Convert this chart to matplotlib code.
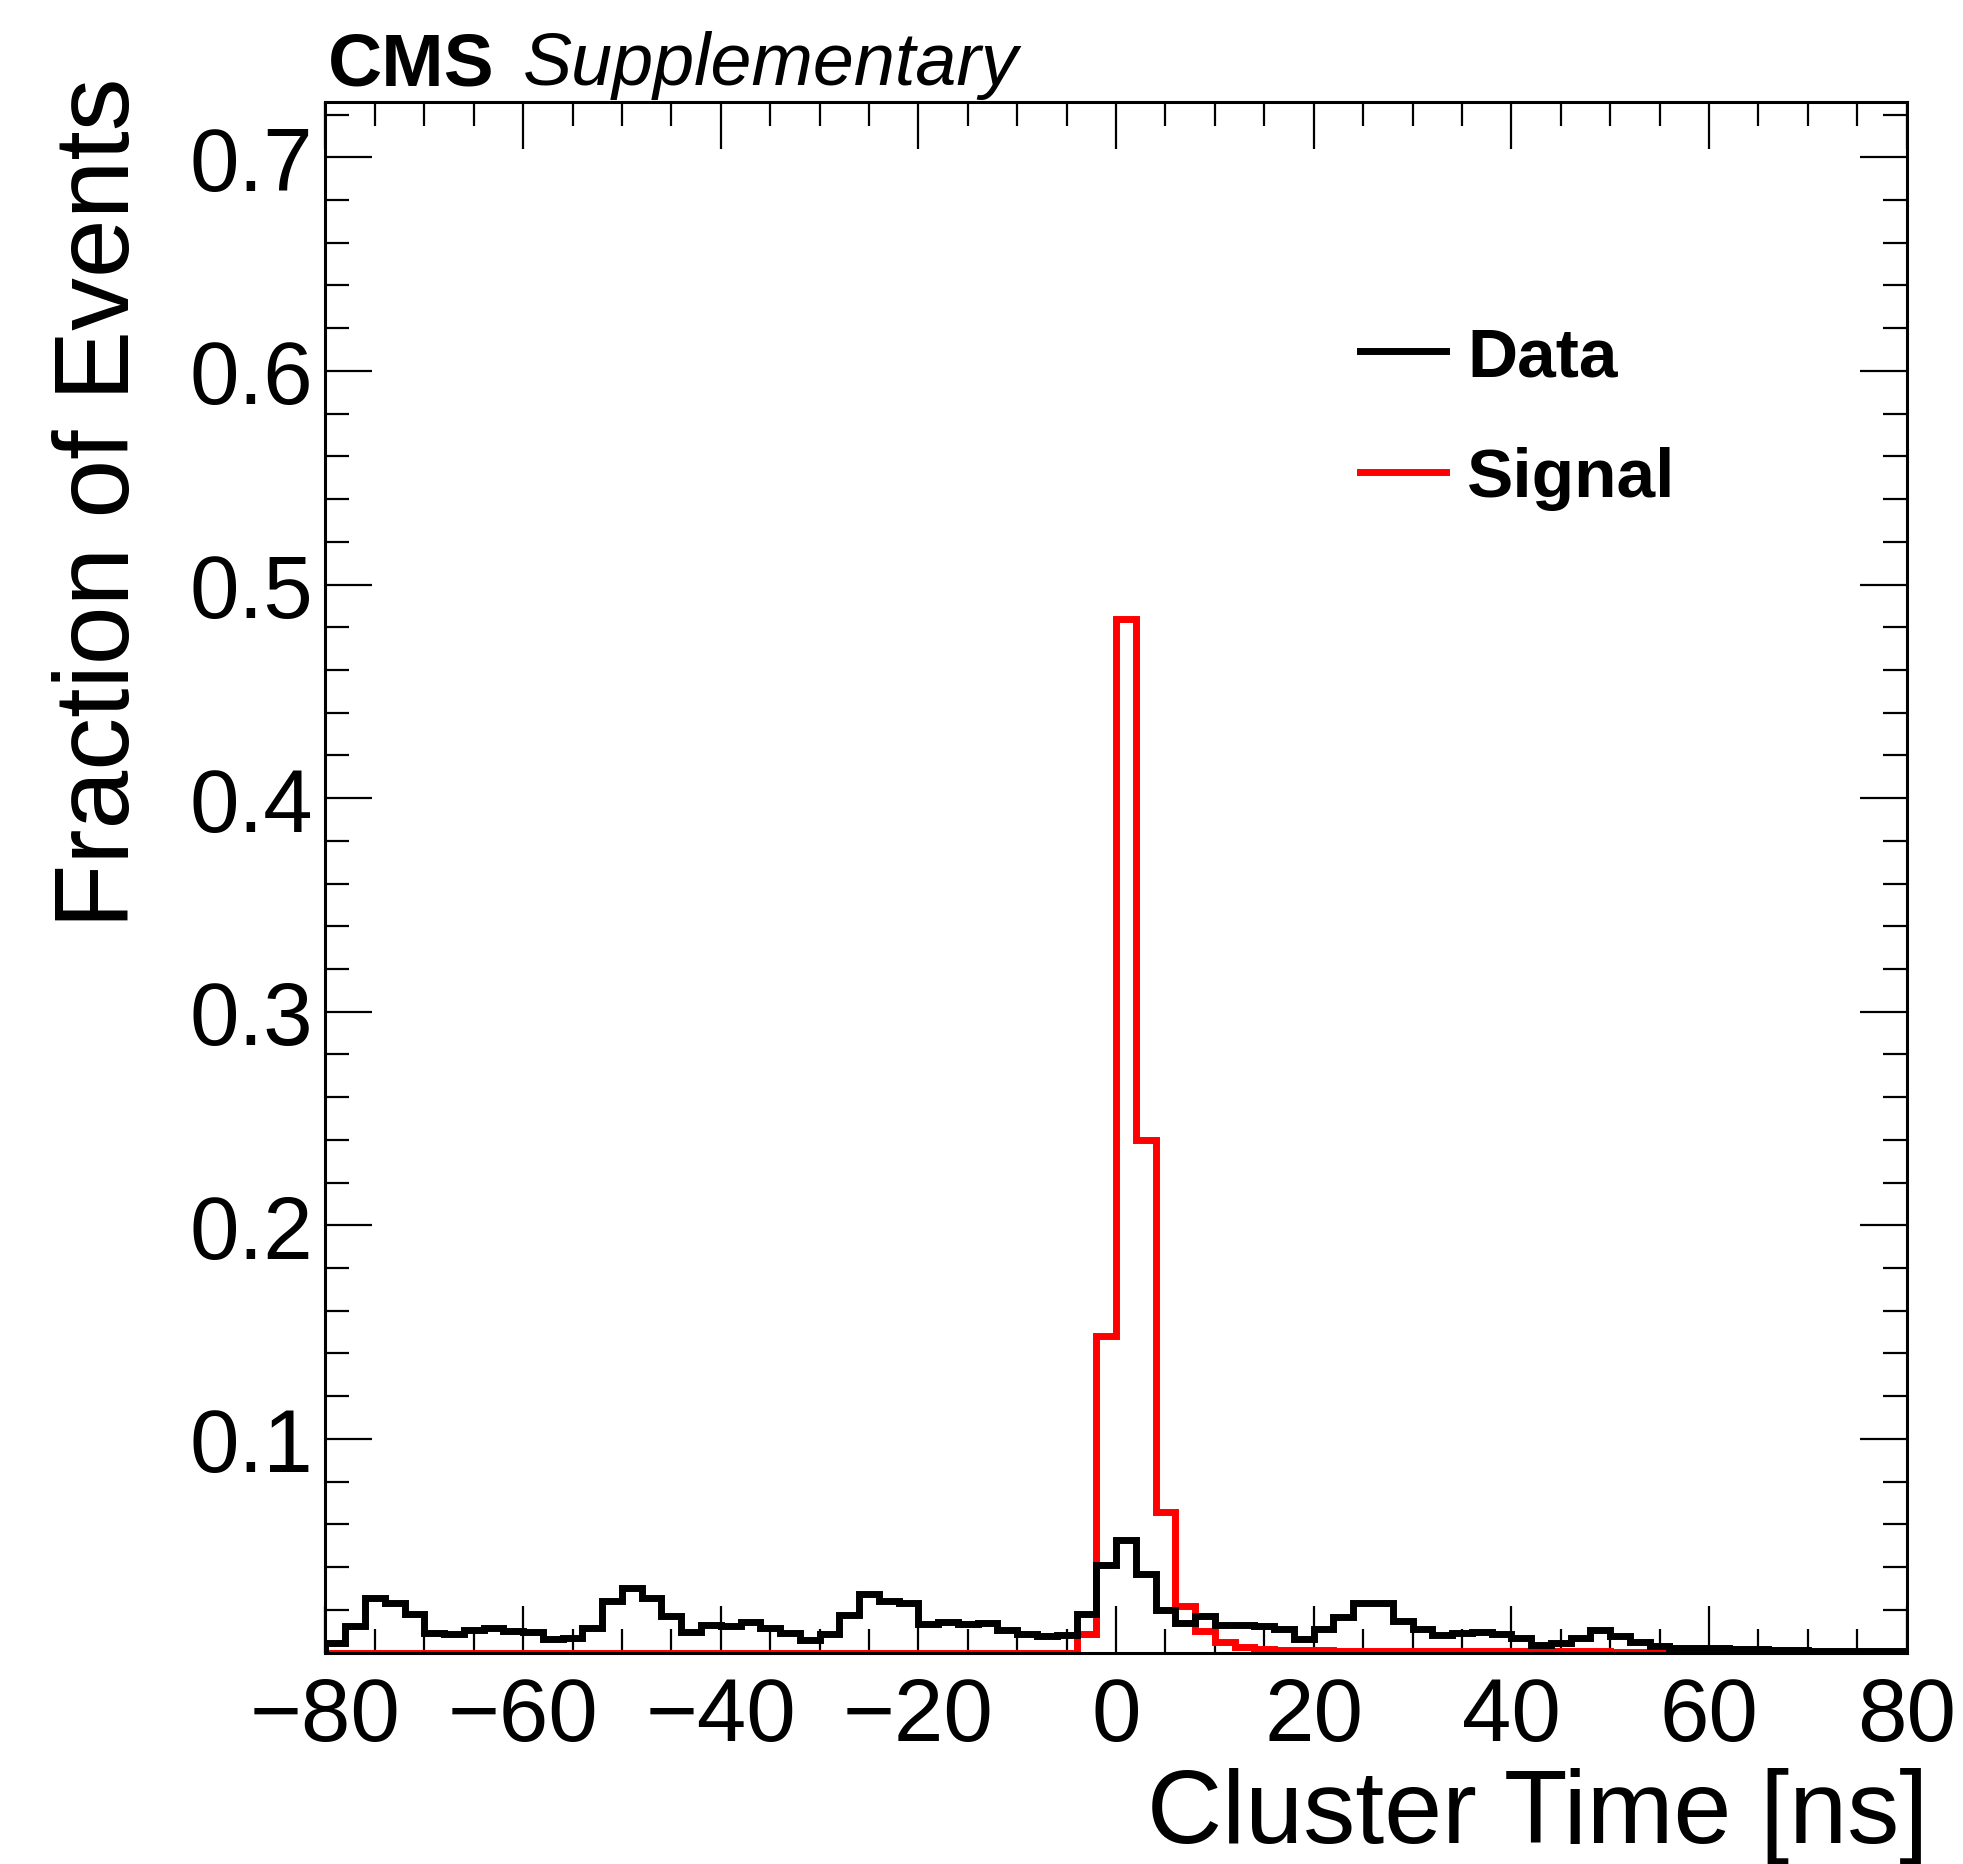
import numpy as np
import matplotlib
matplotlib.use("Agg")
import matplotlib.pyplot as plt
from matplotlib.ticker import MultipleLocator

plt.rcParams['font.family'] = ['Liberation Sans', 'DejaVu Sans']

# binning: 80 bins of 2 ns from -80 to 80
bin_edges = np.arange(-80, 82, 2)

# fraction of events per bin
data_frac = [
    0.0045, 0.0125, 0.0253, 0.0234, 0.0178, 0.0091, 0.0086, 0.0106, 0.0113, 0.0102,
    0.0094, 0.0063, 0.0067, 0.0113, 0.0242, 0.0300, 0.0255, 0.0169, 0.0094, 0.0127,
    0.0125, 0.0144, 0.0114, 0.0089, 0.0060, 0.0086, 0.0177, 0.0275, 0.0239, 0.0231,
    0.0134, 0.0145, 0.0134, 0.0140, 0.0106, 0.0088, 0.0078, 0.0080, 0.0182, 0.0411,
    0.0527, 0.0367, 0.0198, 0.0138, 0.0169, 0.0131, 0.0131, 0.0125, 0.0110, 0.0063,
    0.0110, 0.0167, 0.0234, 0.0230, 0.0148, 0.0110, 0.0080, 0.0090, 0.0094, 0.0086,
    0.0067, 0.0036, 0.0044, 0.0067, 0.0106, 0.0075, 0.0050, 0.0031, 0.0019, 0.0019,
    0.0019, 0.0016, 0.0016, 0.0013, 0.0010, 0.0008, 0.0008, 0.0007, 0.0006, 0.0006,
]
signal_frac = [
    0.0, 0.0, 0.0, 0.0, 0.0, 0.0, 0.0, 0.0, 0.0, 0.0,
    0.0, 0.0, 0.0, 0.0, 0.0, 0.0, 0.0, 0.0, 0.0, 0.0,
    0.0, 0.0, 0.0, 0.0, 0.0, 0.0, 0.0, 0.0, 0.0, 0.0,
    0.0, 0.0, 0.0, 0.0, 0.0, 0.0, 0.0, 0.0, 0.0088, 0.148,
    0.484, 0.240, 0.066, 0.022, 0.0102, 0.0047, 0.0024, 0.0017, 0.0013, 0.0011,
    0.0010, 0.0009, 0.0009, 0.0009, 0.0009, 0.0008, 0.0008, 0.0008, 0.0008, 0.0008,
    0.0006, 0.0006, 0.0006, 0.0006, 0.0006, 0.0004, 0.0004, 0.0004, 0.0004, 0.0004,
    0.0002, 0.0002, 0.0002, 0.0002, 0.0002, 0.0002, 0.0002, 0.0002, 0.0002, 0.0002,
]

LW = 5.0

fig = plt.figure(figsize=(19.63, 18.65), dpi=100)
ax = fig.add_axes([0.1658, 0.1134, 0.8055, 0.8315])

sig = ax.stairs(signal_frac, bin_edges, color='red', lw=LW, label='Signal', zorder=2)
dat = ax.stairs(data_frac, bin_edges, color='black', lw=LW, label='Data', zorder=3)

ax.set_xlim(-80, 80)
ax.set_ylim(0, 1.5 * max(signal_frac))

ax.xaxis.set_major_locator(MultipleLocator(20))
ax.xaxis.set_minor_locator(MultipleLocator(5))
ax.set_yticks(np.arange(0.1, 0.75, 0.1))
ax.set_yticklabels(['0.1', '0.2', '0.3', '0.4', '0.5', '0.6', '0.7'])
ax.yaxis.set_minor_locator(MultipleLocator(0.02))

ax.tick_params(which='both', direction='in', top=True, right=True, width=1.6)
ax.tick_params(which='major', length=34)
ax.tick_params(which='minor', length=17)
ax.tick_params(axis='x', labelsize=64, pad=16)
ax.tick_params(axis='y', labelsize=64, pad=9)
for sp in ax.spines.values():
    sp.set_linewidth(2.2)

ax.text(1.0136, -0.1225, 'Cluster Time [ns]', transform=ax.transAxes,
        fontsize=75, ha='right', va='baseline')
ax.text(-0.1243, 1.016, 'Fraction of Events', transform=ax.transAxes,
        fontsize=76, ha='right', va='baseline', rotation=90, rotation_mode='anchor')

fig.text(0.1671, 0.9544, 'CMS', fontsize=54, fontweight='bold', va='baseline')
fig.text(0.2664, 0.9544, 'Supplementary', fontsize=53, fontstyle='italic', va='baseline')

leg = ax.legend(handles=[dat, sig], loc='upper left', bbox_to_anchor=(0.6543, 0.856),
                frameon=False, borderpad=0, borderaxespad=0,
                handlelength=1.24, handletextpad=0.3, labelspacing=0.82,
                prop={'size': 50, 'weight': 'bold'})
for h in leg.legend_handles:
    h.set_linewidth(LW)

fig.savefig('out.png', dpi=100)
